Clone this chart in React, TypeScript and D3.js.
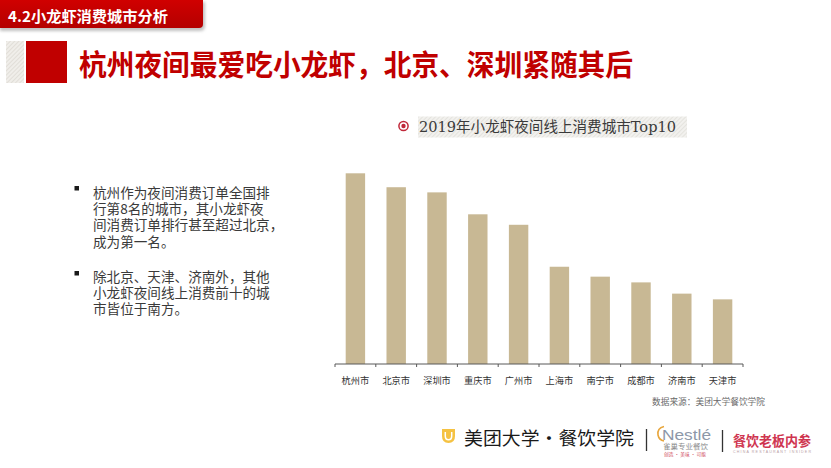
import React from 'react';
import * as d3 from 'd3';

const cities = ['杭州市', '北京市', '深圳市', '重庆市', '广州市', '上海市', '南宁市', '成都市', '济南市', '天津市'];
const values = [100, 92.7, 90.0, 78.5, 73.0, 51.0, 45.8, 42.8, 36.9, 33.9];

const headerText = '4.2小龙虾消费城市分析';
const titleText = '杭州夜间最爱吃小龙虾，北京、深圳紧随其后';
const chartTitle = '2019年小龙虾夜间线上消费城市Top10';
const bullet1 = ['杭州作为夜间消费订单全国排', '行第8名的城市，其小龙虾夜', '间消费订单排行甚至超过北京，', '成为第一名。'];
const bullet2 = ['除北京、天津、济南外，其他', '小龙虾夜间线上消费前十的城', '市皆位于南方。'];
const sourceText = '数据来源：美团大学餐饮学院';

const W = 831;
const H = 468;
const CJK = '"Noto Sans CJK SC", "Noto Sans", sans-serif';

export default function App() {
  const x = d3.scaleBand<string>().domain(cities).range([335, 743]).paddingInner(0.524).paddingOuter(0.262);
  const y = d3.scaleLinear().domain([0, 100]).range([364, 173.3]);
  const [r0] = x.range();
  const boundaries = d3.range(cities.length + 1).map((i) => r0 + i * x.step());
  const baseY = y(0);

  return (
    <div style={{ position: 'absolute', left: 0, top: 0, width: W, height: H, background: '#fff' }}>
      <svg width={W} height={H} viewBox={`0 0 ${W} ${H}`} style={{ display: 'block' }}>
        <defs>
          <linearGradient id="bannerGrad" x1="0" y1="0" x2="0" y2="1">
            <stop offset="0" stopColor="#d00000" />
            <stop offset="1" stopColor="#b40000" />
          </linearGradient>
          <filter id="blur" x="-10%" y="-10%" width="130%" height="160%">
            <feGaussianBlur stdDeviation="1.5" />
          </filter>
          <pattern id="hatch" width="3" height="3" patternUnits="userSpaceOnUse" patternTransform="rotate(45)">
            <rect width="3" height="3" fill="#f2f1ee" />
            <line x1="0" y1="0" x2="0" y2="3" stroke="#dcdad4" strokeWidth="1.2" />
          </pattern>
          <pattern id="hatch2" width="3" height="3" patternUnits="userSpaceOnUse" patternTransform="rotate(45)">
            <rect width="3" height="3" fill="#f0eeea" />
            <line x1="0" y1="0" x2="0" y2="3" stroke="#d8d4cc" strokeWidth="1.2" />
          </pattern>
        </defs>

        {/* Header banner */}
        <path d="M0,2 H205 V26 Q205,31 200,31 H0 Z" fill="#9a9a9a" opacity={0.6} filter="url(#blur)" />
        <path d="M0,0 H203 V24 Q203,28 199,28 H0 Z" fill="url(#bannerGrad)" />
        <text x={8} y={15} fill="#fff" fontFamily={CJK} fontWeight="bold" fontSize={15}
          dominantBaseline="central" textLength={160} lengthAdjust="spacingAndGlyphs">{headerText}</text>

        {/* Title block */}
        <rect x={6} y={41} width={18} height={42} fill="url(#hatch2)" />
        <rect x={26} y={41} width={41} height={42} fill="#c00000" />
        <text x={79} y={63} fill="#c00000" fontFamily={CJK} fontWeight="bold" fontSize={29}
          dominantBaseline="central" textLength={554} lengthAdjust="spacingAndGlyphs">{titleText}</text>

        {/* Chart title */}
        <rect x={418} y={116.5} width={269} height={21} fill="url(#hatch)" />
        <circle cx={403.5} cy={126} r={4.6} fill="none" stroke="#c0283a" strokeWidth={1.5} />
        <circle cx={403.5} cy={126} r={2.2} fill="#c0283a" />
        <text x={419} y={126.5} fill="#3a3a3a" fontFamily={'"DejaVu Serif", "Noto Sans CJK SC", serif'} fontSize={15}
          dominantBaseline="central" textLength={257} lengthAdjust="spacingAndGlyphs">{chartTitle}</text>

        {/* Bullets */}
        <rect x={74.5} y={186} width={4.5} height={4.5} fill="#1a1a1a" />
        <text x={93} y={191.7} fill="#3a3a3a" fontFamily={CJK} fontSize={13.6} dominantBaseline="central">
          {bullet1.map((t, i) => (
            <tspan key={'b1' + i} x={93} dy={i === 0 ? 0 : 16.3}>{t}</tspan>
          ))}
        </text>
        <rect x={74.5} y={271} width={4.5} height={4.5} fill="#1a1a1a" />
        <text x={93} y={276} fill="#3a3a3a" fontFamily={CJK} fontSize={13.6} dominantBaseline="central">
          {bullet2.map((t, i) => (
            <tspan key={'b2' + i} x={93} dy={i === 0 ? 0 : 15.8}>{t}</tspan>
          ))}
        </text>

        {/* Bars */}
        {cities.map((c, i) => (
          <rect key={c} x={x(c)} y={y(values[i])} width={x.bandwidth()} height={baseY - y(values[i])} fill="#c8b894" />
        ))}

        {/* Axis */}
        <line x1={boundaries[0]} x2={boundaries[boundaries.length - 1]} y1={baseY} y2={baseY} stroke="#595959" strokeWidth={1} />
        {boundaries.map((b, i) => (
          <line key={'t' + i} x1={b} x2={b} y1={baseY} y2={baseY + 3} stroke="#595959" strokeWidth={1} />
        ))}
        {cities.map((c) => (
          <text key={'l' + c} x={(x(c) as number) + x.bandwidth() / 2} y={379.5} fill="#333" fontFamily={CJK}
            fontSize={9.2} textAnchor="middle" dominantBaseline="central">{c}</text>
        ))}

        {/* Source */}
        <text x={652} y={401} fill="#6a6a6a" fontFamily={CJK} fontSize={8.6} dominantBaseline="central"
          textLength={113} lengthAdjust="spacingAndGlyphs">{sourceText}</text>

        {/* Footer: Meituan */}
        <path d="M442,429 H455 V436 Q455,443 448.5,443 Q442,443 442,436 Z" fill="#f5c242" />
        <path d="M445.3,432 V436 Q445.3,439.8 448.5,439.8 Q451.7,439.8 451.7,436 V432" fill="none" stroke="#fff" strokeWidth={1.5} />
        <text x={464} y={437} fill="#1a1a1a" fontFamily={CJK} fontSize={18} dominantBaseline="central"
          textLength={170} lengthAdjust="spacingAndGlyphs">美团大学·餐饮学院</text>
        <line x1={646.5} x2={646.5} y1={429} y2={451} stroke="#333" strokeWidth={1.3} />

        {/* Footer: Nestle */}
        <path d="M664,426.5 Q657,428 658,435 Q659,440 664,441" fill="none" stroke="#e8a63c" strokeWidth={1.6} />
        <text x={662} y={434.5} fill="#8d97a8" fontFamily={'"Liberation Sans", Arial, sans-serif'} fontSize={14.5}
          dominantBaseline="central" textLength={49} lengthAdjust="spacingAndGlyphs">Nestlé</text>
        <text x={663} y={446} fill="#8c8c8c" fontFamily={CJK} fontSize={7.2} dominantBaseline="central"
          textLength={45} lengthAdjust="spacingAndGlyphs">雀巢专业餐饮</text>
        <text x={664} y={453.5} fill="#d04a5a" fontFamily={CJK} fontSize={4.5} dominantBaseline="central"
          textLength={42} lengthAdjust="spacingAndGlyphs">创造 · 美味 · 可能</text>
        <line x1={722.5} x2={722.5} y1={430} y2={452} stroke="#333" strokeWidth={1.3} />

        {/* Footer: 餐饮老板内参 */}
        <text x={733} y={440} fill="#cf3550" fontFamily={CJK} fontWeight="bold" fontSize={13.2}
          dominantBaseline="central" textLength={78} lengthAdjust="spacingAndGlyphs">餐饮老板内参</text>
        <text x={733} y={452} fill="#b9a0a6" fontFamily={'"Liberation Sans", sans-serif'} fontSize={3.6}
          dominantBaseline="central" textLength={78} lengthAdjust="spacing">CHINA RESTAURANT INSIDER</text>
      </svg>
    </div>
  );
}
